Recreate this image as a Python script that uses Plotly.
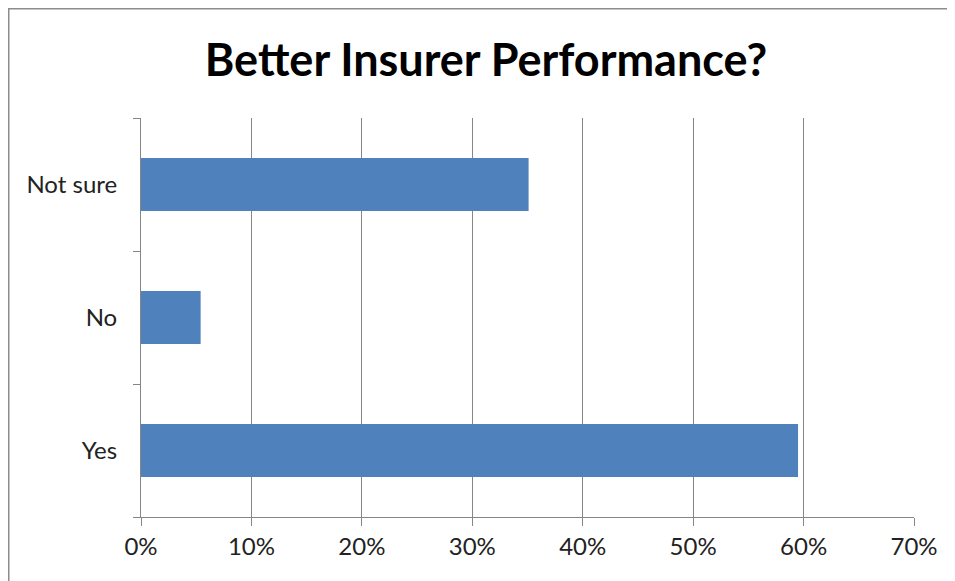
import plotly.graph_objects as go

# 数据
categories = ["Yes", "No", "Not sure"]
shares = [0.595, 0.054, 0.351]
x_ticks = [0, 0.1, 0.2, 0.3, 0.4, 0.5, 0.6, 0.7]
x_tick_labels = ["0%", "10%", "20%", "30%", "40%", "50%", "60%", "70%"]
title = "Better Insurer Performance?"

# 页面 body 有 8px 默认边距, 这里整体补偿
OFF = 8
W, H = 955 - OFF, 581 - OFF
L, T = 141 - OFF, 118 - OFF
pw, ph = 773, 399
R, B = W - L - pw, H - T - ph


def px_x(p):
    return (p - OFF - L) / pw


def px_y(p):
    return 1 - (p - OFF - T) / ph


fig = go.Figure(go.Bar(
    x=shares, y=categories, orientation="h",
    marker=dict(color="#4F81BD", line=dict(width=0)),
))

fig.update_layout(
    width=W, height=H,
    margin=dict(l=L, r=R, t=T, b=B),
    paper_bgcolor="white", plot_bgcolor="white",
    font=dict(family="Lato, Open Sans, sans-serif", size=24, color="#222222"),
    title=dict(text=title, x=px_x(486), xref="paper", xanchor="center",
               y=1 - (60 - OFF) / H, yanchor="middle",
               font=dict(size=45, color="black", family="Lato, Open Sans, sans-serif", weight="bold")),
    showlegend=False,
    bargap=0.6,
    shapes=[
        dict(type="line", xref="paper", yref="paper", x0=px_x(7), x1=px_x(990),
             y0=px_y(8.5), y1=px_y(8.5), line=dict(color="#8c8c8c", width=2)),
        dict(type="line", xref="paper", yref="paper", x0=px_x(8.5), x1=px_x(8.5),
             y0=px_y(7), y1=px_y(620), line=dict(color="#8c8c8c", width=2)),
    ],
)

fig.update_xaxes(
    range=[0, 0.7], tickvals=x_ticks, ticktext=x_tick_labels,
    showgrid=True, gridcolor="#868686", gridwidth=1,
    showline=True, linecolor="#868686", linewidth=1,
    ticks="outside", ticklen=8, tickcolor="#868686",
    zeroline=False, fixedrange=True,
)
fig.update_yaxes(
    categoryorder="array", categoryarray=categories,
    showgrid=False, showline=True, linecolor="#868686", linewidth=1,
    ticks="outside", tickson="boundaries", ticklen=7, tickcolor="#868686",
    ticklabelstandoff=18, fixedrange=True,
)

fig.write_html("out.html")
